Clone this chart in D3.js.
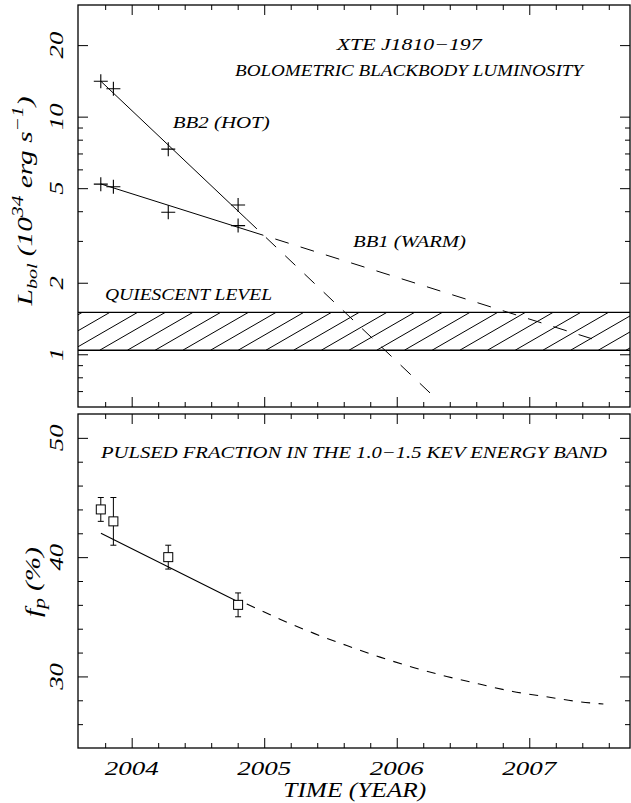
<!DOCTYPE html>
<html>
<head>
<meta charset="utf-8">
<script src="https://cdn.jsdelivr.net/npm/d3@7"></script>
<style>
  html, body { margin: 0; padding: 0; background: #fff; }
  svg { display: block; }
  text { font-family: "Liberation Serif", "DejaVu Serif", serif; font-style: italic; fill: #000; }
</style>
</head>
<body>
<svg id="chart" width="631" height="803"></svg>
<script>
"use strict";

// ---- data
const epochs     = [2003.767, 2003.862, 2004.276, 2004.803];
const bb2Lum     = [14.1, 13.1, 7.3, 4.25];
const bb1Lum     = [5.2, 5.07, 3.96, 3.48];
const bb2Fit     = [[2003.767, 14.1], [2004.868, 3.70]];
const bb2Extrap  = [[2004.868, 3.70], [2006.31, 0.64]];
const bb1Fit     = [[2003.767, 5.21], [2004.893, 3.30]];
const bb1Extrap  = [[2004.893, 3.30], [2007.549, 1.127]];
const quiescent  = [1.04, 1.5];

const pulsedFrac = [44, 43, 40, 36];
const pulsedErr  = [1, 2, 1, 1];
const pfFit      = [[2003.768, 42.0], [2004.795, 36.3]];
const pfExtrap   = [[2004.868, 36.08], [2005.119, 34.80], [2005.371, 33.63], [2005.623, 32.59],
                    [2005.874, 31.62], [2006.125, 30.75], [2006.377, 30.0], [2006.623, 29.36],
                    [2006.875, 28.74], [2007.127, 28.30], [2007.378, 27.88], [2007.559, 27.69]];

const yearTicks  = [2004, 2005, 2006, 2007];
const lumTicks   = [1, 2, 5, 10, 20];
const lumMinor   = [0.7, 0.8, 0.9, 3, 4, 6, 7, 8, 9];
const pfTicks    = [30, 40, 50];
const pfMinor    = [26, 28, 32, 34, 36, 38, 42, 44, 46, 48];

// ---- layout
const svg = d3.select("#chart");
const X0 = 78, X1 = 630;
const pTop = {y0: 5, y1: 407}, pBot = {y0: 414, y1: 748};

const x  = d3.scaleLinear().domain([2003.595, 2007.76]).range([X0, X1]);
const yL = d3.scaleLog().domain([0.6, 29.5]).range([pTop.y1, pTop.y0]);
const yP = d3.scaleLinear().domain([24, 52]).range([pBot.y1, pBot.y0]);
const yearMinor = d3.range(2003.8, 2007.7, 0.2).filter(v => Math.abs(v - Math.round(v)) > 0.01);

// clip paths
const defs = svg.append("defs");
[["clipTop", pTop], ["clipBot", pBot]].forEach(([id, p]) => {
  defs.append("clipPath").attr("id", id).append("rect")
    .attr("x", X0).attr("y", p.y0).attr("width", X1 - X0).attr("height", p.y1 - p.y0);
});

// ---- ticks on all four sides, pointing inward
function frameTicks(p, yScale, yMajor, yMinorV) {
  const g = svg.append("g").attr("class", "ticks");
  const put = (axis, tr, vals, size) => {
    g.append("g").attr("transform", tr)
      .call(axis.tickValues(vals).tickSize(size).tickFormat(""))
      .call(s => s.select(".domain").remove())
      .selectAll("line").attr("stroke", "#000").attr("stroke-width", 1);
  };
  put(d3.axisBottom(x), `translate(0,${p.y1})`, yearTicks, -10);
  put(d3.axisBottom(x), `translate(0,${p.y1})`, yearMinor, -5);
  put(d3.axisTop(x), `translate(0,${p.y0})`, yearTicks, -10);
  put(d3.axisTop(x), `translate(0,${p.y0})`, yearMinor, -5);
  put(d3.axisLeft(yScale), `translate(${X0},0)`, yMajor, -10);
  put(d3.axisLeft(yScale), `translate(${X0},0)`, yMinorV, -5);
  put(d3.axisRight(yScale), `translate(${X1},0)`, yMajor, -10);
  put(d3.axisRight(yScale), `translate(${X1},0)`, yMinorV, -5);
  svg.append("rect").attr("x", X0).attr("y", p.y0)
    .attr("width", X1 - X0).attr("height", p.y1 - p.y0)
    .attr("fill", "none").attr("stroke", "#000").attr("stroke-width", 1.3);
}
frameTicks(pTop, yL, lumTicks, lumMinor);
frameTicks(pBot, yP, pfTicks, pfMinor);

// ---- text helper
function label(str, x0, y0, size, len, opts = {}) {
  const t = svg.append("text").attr("x", x0).attr("y", y0)
    .style("font-size", size + "px").text(str);
  if (len) t.attr("textLength", len).attr("lengthAdjust", "spacingAndGlyphs");
  if (opts.anchor) t.attr("text-anchor", opts.anchor);
  if (opts.rotate) t.attr("x", 0).attr("y", 0)
    .attr("transform", `translate(${x0},${y0}) rotate(-90)`);
  return t;
}

// tick labels
yearTicks.forEach(v => label(v, x(v), 775, 19, 54, {anchor: "middle"}));
lumTicks.forEach(v => label(v, 63, yL(v), 19, 13.3 * String(v).length, {anchor: "middle", rotate: true}));
pfTicks.forEach(v => label(v, 63, yP(v), 19, 26.6, {anchor: "middle", rotate: true}));

// ---- top panel: quiescent band with hatching
const band = svg.append("g");
const bTop = yL(quiescent[1]), bBot = yL(quiescent[0]);
defs.append("clipPath").attr("id", "clipBand").append("rect")
  .attr("x", X0).attr("y", bTop).attr("width", X1 - X0).attr("height", bBot - bTop);
const hatch = band.append("g").attr("clip-path", "url(#clipBand)");
const dx = (bBot - bTop) / Math.tan(30 * Math.PI / 180);
for (let xb = 99.7 - 27.7 * 4; xb < X1; xb += 27.7) {
  hatch.append("line").attr("x1", xb).attr("y1", bBot).attr("x2", xb + dx).attr("y2", bTop)
    .attr("stroke", "#000").attr("stroke-width", 1);
}
quiescent.forEach(v => band.append("line")
  .attr("x1", X0).attr("x2", X1).attr("y1", yL(v)).attr("y2", yL(v))
  .attr("stroke", "#000").attr("stroke-width", 1.3));

// fits
const lineL = d3.line().x(d => x(d[0])).y(d => yL(d[1]));
const gTop = svg.append("g").attr("clip-path", "url(#clipTop)");
[bb2Fit, bb1Fit].forEach(d => gTop.append("path").attr("d", lineL(d))
  .attr("fill", "none").attr("stroke", "#000").attr("stroke-width", 1));
[bb2Extrap, bb1Extrap].forEach(d => gTop.append("path").attr("d", lineL(d))
  .attr("fill", "none").attr("stroke", "#000").attr("stroke-width", 1)
  .attr("stroke-dasharray", "14,12.5"));

// crosses
[bb2Lum, bb1Lum].forEach(series => {
  gTop.selectAll(null).data(series.map((v, i) => [epochs[i], v])).enter()
    .append("path")
    .attr("d", d => `M${x(d[0]) - 7},${yL(d[1])}h14M${x(d[0])},${yL(d[1]) - 7}v14`)
    .attr("stroke", "#000").attr("stroke-width", 1.1).attr("fill", "none");
});

// annotations
label("XTE J1810\u2212197", 336.7, 50, 17.5, 145);
label("BOLOMETRIC BLACKBODY LUMINOSITY", 235, 76, 17.5, 348);
label("BB2 (HOT)", 172.7, 127.5, 17.5, 97);
label("BB1 (WARM)", 353, 246.7, 17.5, 113);
label("QUIESCENT LEVEL", 105, 300, 17.5, 167);

// y label top
const yl = svg.append("text").attr("transform", "translate(32,201) rotate(-90)")
  .attr("text-anchor", "middle").style("font-size", "22px")
  .attr("textLength", 209).attr("lengthAdjust", "spacingAndGlyphs");
yl.append("tspan").text("L");
yl.append("tspan").text("bol").style("font-size", "15px").attr("dy", 5);
yl.append("tspan").text(" (10").attr("dy", -5);
yl.append("tspan").text("34").style("font-size", "16px").attr("dy", -9);
yl.append("tspan").text(" erg s").attr("dy", 9);
yl.append("tspan").text("\u22121").style("font-size", "16px").attr("dy", -9);
yl.append("tspan").text(")").attr("dy", 9);

// ---- bottom panel
const gBot = svg.append("g").attr("clip-path", "url(#clipBot)");
const lineP = d3.line().x(d => x(d[0])).y(d => yP(d[1]));
gBot.append("path").attr("d", lineP(pfFit))
  .attr("fill", "none").attr("stroke", "#000").attr("stroke-width", 1.1);
gBot.append("path").attr("d", lineP.curve(d3.curveMonotoneX)(pfExtrap))
  .attr("fill", "none").attr("stroke", "#000").attr("stroke-width", 1.1)
  .attr("stroke-dasharray", "9,8.5");

const pts = pulsedFrac.map((v, i) => ({t: epochs[i], v, e: pulsedErr[i]}));
const pg = gBot.selectAll(null).data(pts).enter().append("g");
pg.append("path")
  .attr("d", d => {
    const cx = x(d.t), a = yP(d.v + d.e), b = yP(d.v - d.e);
    return `M${cx},${a}V${b}M${cx - 3},${a}h6M${cx - 3},${b}h6`;
  })
  .attr("stroke", "#000").attr("stroke-width", 1).attr("fill", "none");
pg.append("rect")
  .attr("x", d => x(d.t) - 4.5).attr("y", d => yP(d.v) - 4.5)
  .attr("width", 9).attr("height", 9)
  .attr("fill", "#fff").attr("stroke", "#000").attr("stroke-width", 1);

label("PULSED FRACTION IN THE 1.0\u22121.5 KEV ENERGY BAND", 101, 458.3, 17.5, 506);

const fl = svg.append("text").attr("transform", "translate(40,582) rotate(-90)")
  .attr("text-anchor", "middle").style("font-size", "22px")
  .attr("textLength", 70).attr("lengthAdjust", "spacingAndGlyphs");
fl.append("tspan").text("f");
fl.append("tspan").text("p").style("font-size", "16px").attr("dy", 5);
fl.append("tspan").text(" (%)").attr("dy", -5);

label("TIME (YEAR)", 283.3, 797.3, 21, 143);
</script>
</body>
</html>
